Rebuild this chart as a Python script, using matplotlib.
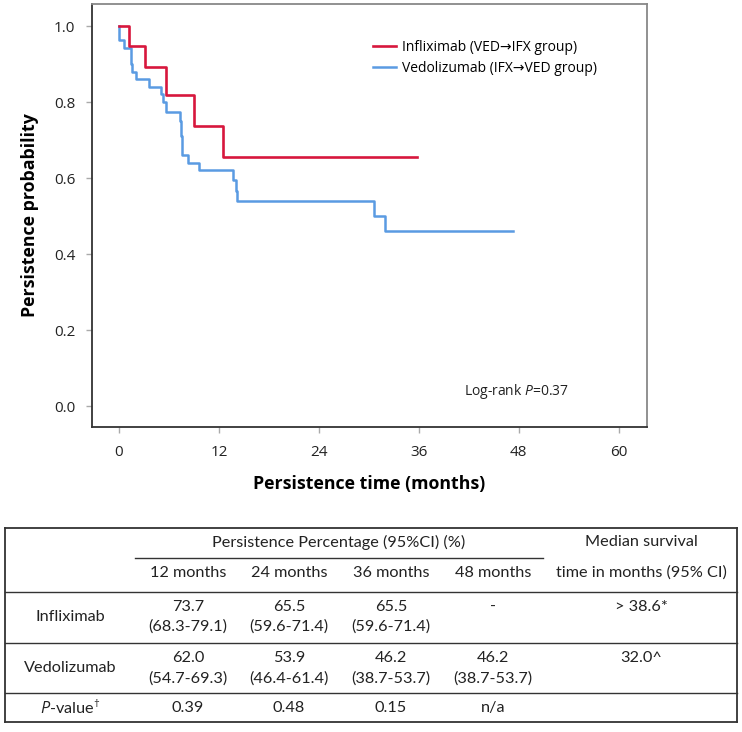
import matplotlib
matplotlib.use("Agg")
import matplotlib.pyplot as plt
from matplotlib.lines import Line2D

plt.rcParams['font.family'] = ['Open Sans', 'DejaVu Sans']
plt.rcParams['mathtext.fontset'] = 'custom'
plt.rcParams['mathtext.rm'] = 'Open Sans'
plt.rcParams['mathtext.it'] = 'Open Sans:italic'

# Kaplan-Meier persistence curves (months, probability)
ifx_time = [0, 1.2, 3.1, 5.6, 9.0, 12.5, 35.8]
ifx_surv = [1.0, 0.947, 0.893, 0.818, 0.737, 0.655, 0.655]
ved_time = [0, 0.05, 0.6, 1.5, 1.6, 2.1, 3.6, 5.1, 5.3, 5.6, 7.3, 7.45, 7.55,
            8.3, 9.6, 13.7, 14.0, 14.2, 30.6, 32.0, 47.3]
ved_surv = [1.0, 0.962, 0.943, 0.90, 0.88, 0.86, 0.84, 0.82, 0.80, 0.774, 0.75,
            0.71, 0.66, 0.64, 0.62, 0.595, 0.565, 0.539, 0.50, 0.462, 0.462]
ifx_label = 'Infliximab (VED\u2192IFX group)'
ved_label = 'Vedolizumab (IFX\u2192VED group)'
x_ticks = [0, 12, 24, 36, 48, 60]
y_ticks = [0.0, 0.2, 0.4, 0.6, 0.8, 1.0]

# summary table
col_heads = ['12 months', '24 months', '36 months', '48 months']
ifx_pct = ['73.7', '65.5', '65.5', '-']
ifx_ci = ['(68.3-79.1)', '(59.6-71.4)', '(59.6-71.4)', '']
ved_pct = ['62.0', '53.9', '46.2', '46.2']
ved_ci = ['(54.7-69.3)', '(46.4-61.4)', '(38.7-53.7)', '(38.7-53.7)']
p_vals = ['0.39', '0.48', '0.15', 'n/a']
ifx_median = '> 38.6*'
ved_median = '32.0^'

RED = '#d7173d'
BLUE = '#5a9be2'
W, H = 742, 732

fig = plt.figure(figsize=(W / 100, H / 100), dpi=100)
ax = fig.add_axes([92 / W, 1 - 427 / H, 555 / W, 423 / H])

ax.step(ved_time, ved_surv, where='post', color=BLUE, lw=1.8, label=ved_label)
ax.step(ifx_time, ifx_surv, where='post', color=RED, lw=1.9, label=ifx_label)

ax.set_xlim(-3.24, 63.4)
ax.set_ylim(-0.055, 1.058)
ax.set_xticks(x_ticks)
ax.set_yticks(y_ticks)
ax.set_yticklabels(['%.1f' % v for v in y_ticks])
ax.tick_params(direction='out', length=4, width=1, color='#aaaaaa',
               labelsize=11, labelcolor='#222222')
ax.tick_params(axis='x', pad=9)
ax.tick_params(axis='y', pad=8)
for s in ['left', 'bottom']:
    ax.spines[s].set_color('#333333')
    ax.spines[s].set_linewidth(1.3)
for s in ['top', 'right']:
    ax.spines[s].set_color('#888888')
    ax.spines[s].set_linewidth(1.3)

h, l = ax.get_legend_handles_labels()
ax.legend(h[::-1], l[::-1], loc='upper left', bbox_to_anchor=(0.506, 0.915),
          frameon=False, fontsize=10, borderpad=0, borderaxespad=0,
          handlelength=1.65, handletextpad=0.45, labelspacing=0.42)

ax.text(0.765, 0.083, 'Log-rank $P$=0.37', transform=ax.transAxes,
        ha='center', va='center', fontsize=10, color='#222222')

fig.text(30 / W, 1 - 215 / H, 'Persistence probability', rotation=90,
         ha='center', va='center', fontsize=12.8, fontweight='bold')
fig.text(369.5 / W, 1 - 484 / H, 'Persistence time (months)',
         ha='center', va='center', fontsize=12.8, fontweight='bold')

# ---- table ----
tfont = ['Lato', 'DejaVu Sans']
tsize = 11.7
col_x = [188, 289, 391, 493]
lab_x = 70
med_x = 641


def fy(y):
    return 1 - y / H


def put(x, y, s):
    fig.text(x / W, fy(y), s, ha='center', va='center', fontsize=tsize,
             family=tfont, color='#222222')


def hline(x0, x1, y, lw=1.0):
    fig.add_artist(Line2D([x0 / W, x1 / W], [fy(y), fy(y)], color='#333333',
                          lw=lw, transform=fig.transFigure))


left, right, top, bottom = 5, 737, 528, 722
hline(left, right, top, 1.3)
hline(left, right, bottom, 1.3)
for xx in [left, right]:
    fig.add_artist(Line2D([xx / W, xx / W], [fy(top), fy(bottom)],
                          color='#333333', lw=1.3, transform=fig.transFigure))
hline(135, 543, 558)
hline(left, right, 592)
hline(left, right, 643)
hline(left, right, 693)

put((135 + 543) / 2, 542, 'Persistence Percentage (95%CI) (%)')
put(med_x, 542, 'Median survival')
put(med_x, 573, 'time in months (95% CI)')
for i, c in enumerate(col_heads):
    put(col_x[i], 573, c)

put(lab_x, 617, 'Infliximab')
put(lab_x, 668, 'Vedolizumab')
for i in range(4):
    put(col_x[i], 607, ifx_pct[i])
    put(col_x[i], 627, ifx_ci[i])
    put(col_x[i], 658, ved_pct[i])
    put(col_x[i], 679, ved_ci[i])
    put(col_x[i], 708, p_vals[i])
put(med_x, 607, ifx_median)
put(med_x, 658, ved_median)
put(lab_x, 708, '$P$-value$^{\\dagger}$')

fig.savefig('out.png', dpi=100)
